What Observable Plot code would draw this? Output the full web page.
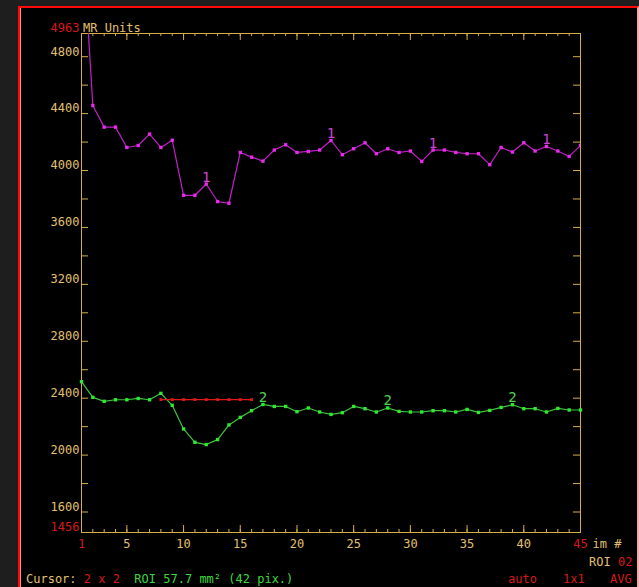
<!DOCTYPE html>
<html><head><meta charset="utf-8">
<script src="https://cdn.jsdelivr.net/npm/d3@7"></script>
<script src="https://cdn.jsdelivr.net/npm/@observablehq/plot@0.6"></script>
<style>
html,body{margin:0;padding:0;background:#1e1e1e;width:639px;height:587px;overflow:hidden;}
#frame{position:absolute;left:18px;top:6px;width:617px;height:600px;background:#000;border-top:2px solid #ff0a0a;border-left:2px solid #ff0a0a;border-right:2px solid #f5a8a8;box-shadow:inset 1px 0 0 #ff8a8a;}
#chart{position:absolute;left:0;top:0;}
.t{position:absolute;font-family:"DejaVu Sans Mono",monospace;font-size:12px;line-height:14px;white-space:pre;}
.y{color:#e2c070}.r{color:#d81818}.g{color:#3ed83e}
</style></head>
<body>
<div id="frame"></div>
<div id="chart"></div>
<div class="t y" style="left:83px;top:21px;">MR Units</div>
<div class="t" style="left:26px;top:572px;"><span class="y">Cursor: </span><span class="r">2 x 2</span><span class="g">  ROI 57.7 mm² (42 pix.)</span></div>
<div class="t" style="left:589px;top:555px;"><span class="y">ROI </span><span class="r">02</span></div>
<div class="t r" style="left:508px;top:572px;">auto</div>
<div class="t r" style="left:563px;top:572px;">1x1</div>
<div class="t r" style="left:610px;top:572px;">AVG</div>
<script>
// ---- data ----
const imNumbers = [1,2,3,4,5,6,7,8,9,10,11,12,13,14,15,16,17,18,19,20,21,22,23,24,25,26,27,28,29,30,31,32,33,34,35,36,37,38,39,40,41,42,43,44,45];
const roi1 = [5750,4457,4305,4305,4162,4176,4256,4162,4213,3826,3826,3905,3782,3770,4127,4094,4066,4144,4181,4127,4134,4144,4211,4111,4153,4195,4118,4153,4127,4137,4064,4144,4144,4127,4118,4118,4041,4162,4130,4195,4137,4169,4137,4099,4176];
const roi2 = [2516,2406,2378,2389,2389,2398,2389,2434,2350,2184,2090,2074,2109,2212,2265,2312,2356,2342,2342,2305,2331,2303,2286,2298,2342,2326,2303,2331,2307,2303,2303,2312,2312,2303,2321,2300,2314,2335,2354,2326,2326,2303,2328,2317,2317];
const baselineIm = [8,9,10,11,12,13,14,15,16];
const baselineVal = [2390,2390,2390,2390,2390,2390,2390,2390,2390];
const roi1LabelIm = [12,23,32,42];
const roi2LabelIm = [17,28,39];
const yMin = 1456, yMax = 4963;
const xMin = 1, xMax = 45;
const yTickValues = [1600,1800,2000,2200,2400,2600,2800,3000,3200,3400,3600,3800,4000,4200,4400,4600,4800];
const yLabelValues = [1600,2000,2400,2800,3200,3600,4000,4400,4800];
const xMinorTicks = [2,3,4,5,6,7,8,9,10,11,12,13,14,15,16,17,18,19,20,21,22,23,24,25,26,27,28,29,30,31,32,33,34,35,36,37,38,39,40,41,42,43,44];
const xLabelValues = [5,10,15,20,25,30,35,40];

// ---- styles ----
const AX = "#d6ae48", TX = "#e2c070", RED = "#d81818";
const MAG_L = "#c21fc8", MAG_D = "#e52ce8", GRN_L = "#3ec43e", GRN_D = "#30e830", BASE = "#e01818";

const d1 = roi1.map((v,i)=>({im: imNumbers[i], v}));
const d2 = roi2.map((v,i)=>({im: imNumbers[i], v}));
const d3b = baselineVal.map((v,i)=>({im: baselineIm[i], v}));
const l1 = roi1LabelIm.map(im=>({im, v: roi1[im-1]}));
const l2 = roi2LabelIm.map(im=>({im, v: roi2[im-1]}));

const W=639, H=587, mL=81, mR=59, mT=33, mB=55;
const pw = W-mL-mR, ph = H-mT-mB;

const chart = Plot.plot({
  width: W, height: H, marginLeft: mL, marginRight: mR, marginTop: mT, marginBottom: mB,
  style: {background: "transparent", fontFamily: "DejaVu Sans Mono, monospace", fontSize: "12px", overflow: "visible"},
  x: {domain: [xMin, xMax]},
  y: {domain: [yMin, yMax]},
  marks: [
    Plot.frame({stroke: AX}),
    Plot.tickY(yTickValues, {y: d=>d, stroke: AX, insetRight: pw-7}),
    Plot.tickY(yTickValues, {y: d=>d, stroke: AX, insetLeft: pw-7}),
    Plot.tickX(xMinorTicks, {x: d=>d, stroke: AX, insetTop: ph-3}),
    Plot.tickX(xMinorTicks, {x: d=>d, stroke: AX, insetBottom: ph-3}),
    Plot.tickX(xLabelValues, {x: d=>d, stroke: AX, insetTop: ph-7}),
    Plot.tickX(xLabelValues, {x: d=>d, stroke: AX, insetBottom: ph-7}),
    Plot.axisY({ticks: yLabelValues, tickSize: 0, tickPadding: 2, dy: -5, fill: TX, fontSize: 12, tickFormat: d=>String(d), label: null}),
    Plot.axisX({ticks: xLabelValues, tickSize: 0, tickPadding: 7, fill: TX, fontSize: 12, tickFormat: d=>String(d), label: null}),
    Plot.text([yMin, yMax], {x: xMin, y: d=>d, text: d=>String(d), textAnchor: "end", dx: -2, dy: -5, fill: RED, fontSize: 12}),
    Plot.text([xMin, xMax], {x: d=>d, y: yMin, text: d=>String(d), lineAnchor: "top", dy: 7, fill: RED, fontSize: 12}),
    Plot.text(["im #"], {x: xMax, y: yMin, text: d=>d, textAnchor: "start", lineAnchor: "top", dx: 12, dy: 7, fill: TX, fontSize: 12}),
    Plot.line(d1, {x: "im", y: "v", stroke: MAG_L, strokeWidth: 1.2, clip: true}),
    Plot.dot(d1, {x: "im", y: "v", symbol: "square", r: 1.9, fill: MAG_D, clip: true}),
    Plot.text(l1, {x: "im", y: "v", text: ()=>"1", fill: "#d040d8", fontSize: 14, dy: -7}),
    Plot.line(d2, {x: "im", y: "v", stroke: GRN_L, strokeWidth: 1.2}),
    Plot.dot(d2, {x: "im", y: "v", symbol: "square", r: 1.9, fill: GRN_D}),
    Plot.text(l2, {x: "im", y: "v", text: ()=>"2", fill: "#50d050", fontSize: 14, dy: -7}),
    Plot.line(d3b, {x: "im", y: "v", stroke: BASE, strokeWidth: 1.2}),
    Plot.dot(d3b, {x: "im", y: "v", symbol: "square", r: 1.6, fill: BASE})
  ]
});
document.getElementById("chart").appendChild(chart);
</script>
</body></html>
